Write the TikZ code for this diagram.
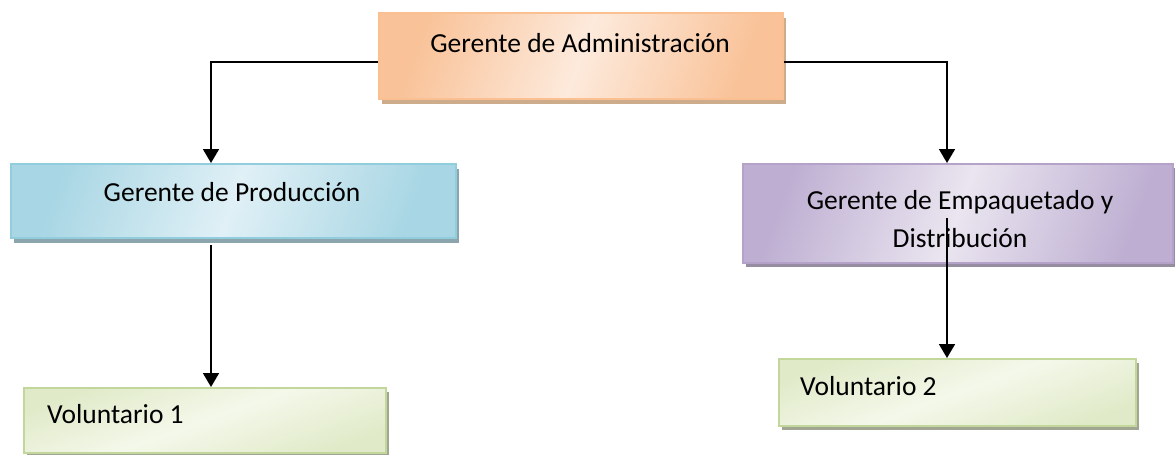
\documentclass[tikz,border=0pt]{standalone}
\usepackage{fontspec}
\setmainfont{Carlito}
\usetikzlibrary{shadows,arrows.meta}
\definecolor{orE}{RGB}{249,194,152}
\definecolor{orM}{RGB}{253,234,220}
\definecolor{orB}{RGB}{250,192,146}
\definecolor{orS}{RGB}{205,172,140}
\definecolor{blE}{RGB}{168,214,228}
\definecolor{blM}{RGB}{224,240,246}
\definecolor{blB}{RGB}{146,205,221}
\definecolor{blS}{RGB}{140,165,172}
\definecolor{puE}{RGB}{190,175,210}
\definecolor{puM}{RGB}{234,229,240}
\definecolor{puB}{RGB}{180,162,200}
\definecolor{puS}{RGB}{150,142,160}
\definecolor{grE}{RGB}{224,234,200}
\definecolor{grM}{RGB}{244,248,234}
\definecolor{grB}{RGB}{195,214,155}
\definecolor{grS}{RGB}{160,166,146}
\tikzset{
  box/.style={rectangle, inner sep=0pt, line width=1.5pt, anchor=north west},
  orbox/.style={box, draw=orB, shading=axis, left color=orE, right color=orE, middle color=orM, shading angle=70,
     drop shadow={shadow xshift=3pt, shadow yshift=-5pt, fill=orS, opacity=1}},
  blbox/.style={box, draw=blB, shading=axis, left color=blE, right color=blE, middle color=blM, shading angle=70,
     drop shadow={shadow xshift=3pt, shadow yshift=-5pt, fill=blS, opacity=1}},
  pubox/.style={box, draw=puB, shading=axis, left color=puE, right color=puE, middle color=puM, shading angle=70,
     drop shadow={shadow xshift=3pt, shadow yshift=-4pt, fill=puS, opacity=1}},
  grbox/.style={box, draw=grB, shading=axis, top color=grE, bottom color=grE, middle color=grM, shading angle=20,
     drop shadow={shadow xshift=3pt, shadow yshift=-4pt, fill=grS, opacity=1}},
  txt/.style={inner sep=0pt, font=\fontsize{27.5}{38}\selectfont},
  conn/.style={line width=1.8pt, -{Triangle[width=16pt,length=14pt]}},
}
\begin{document}
\begin{tikzpicture}[x=1pt,y=-1pt]
\useasboundingbox (0,0) rectangle (1175,455);
% boxes
\node[orbox, minimum width=404pt, minimum height=86pt] (adm) at (378,12) {};
\node[blbox, minimum width=445pt, minimum height=74pt] (prod) at (10,163) {};
\node[pubox, minimum width=430pt, minimum height=99pt] (emp) at (742,163) {};
\node[grbox, minimum width=362pt, minimum height=65pt] (v1) at (23,387) {};
\node[grbox, minimum width=357pt, minimum height=67pt] (v2) at (778,358) {};
% texts
\node[txt, anchor=base] (tadm) at (580,52) {Gerente de Administración};
\node[txt, anchor=base] (tprod) at (232,201) {Gerente de Producción};
\node[txt, anchor=base] (temp1) at (960,209) {Gerente de Empaquetado y};
\node[txt, anchor=base] (temp2) at (960,247) {Distribución};
\node[txt, anchor=base west] (tv1) at (47,423) {Voluntario 1};
\node[txt, anchor=base west] (tv2) at (800,395) {Voluntario 2};
% connector points
\coordinate (a1) at (adm.west |- 0,62);
\coordinate (a2) at (adm.east |- 0,62);
\coordinate (pn) at (211,163);
\coordinate (en) at (947,163);
\coordinate (ps) at (211,245);
\coordinate (es) at (947,218);
\coordinate (v1n) at (211,387);
\coordinate (v2n) at (947,358);
% connectors
\draw[conn] (a1) -| (pn);
\draw[conn] (a2) -| (en);
\draw[conn] (ps) -- (v1n);
\draw[conn] (es) -- (v2n);
\end{tikzpicture}
\end{document}
